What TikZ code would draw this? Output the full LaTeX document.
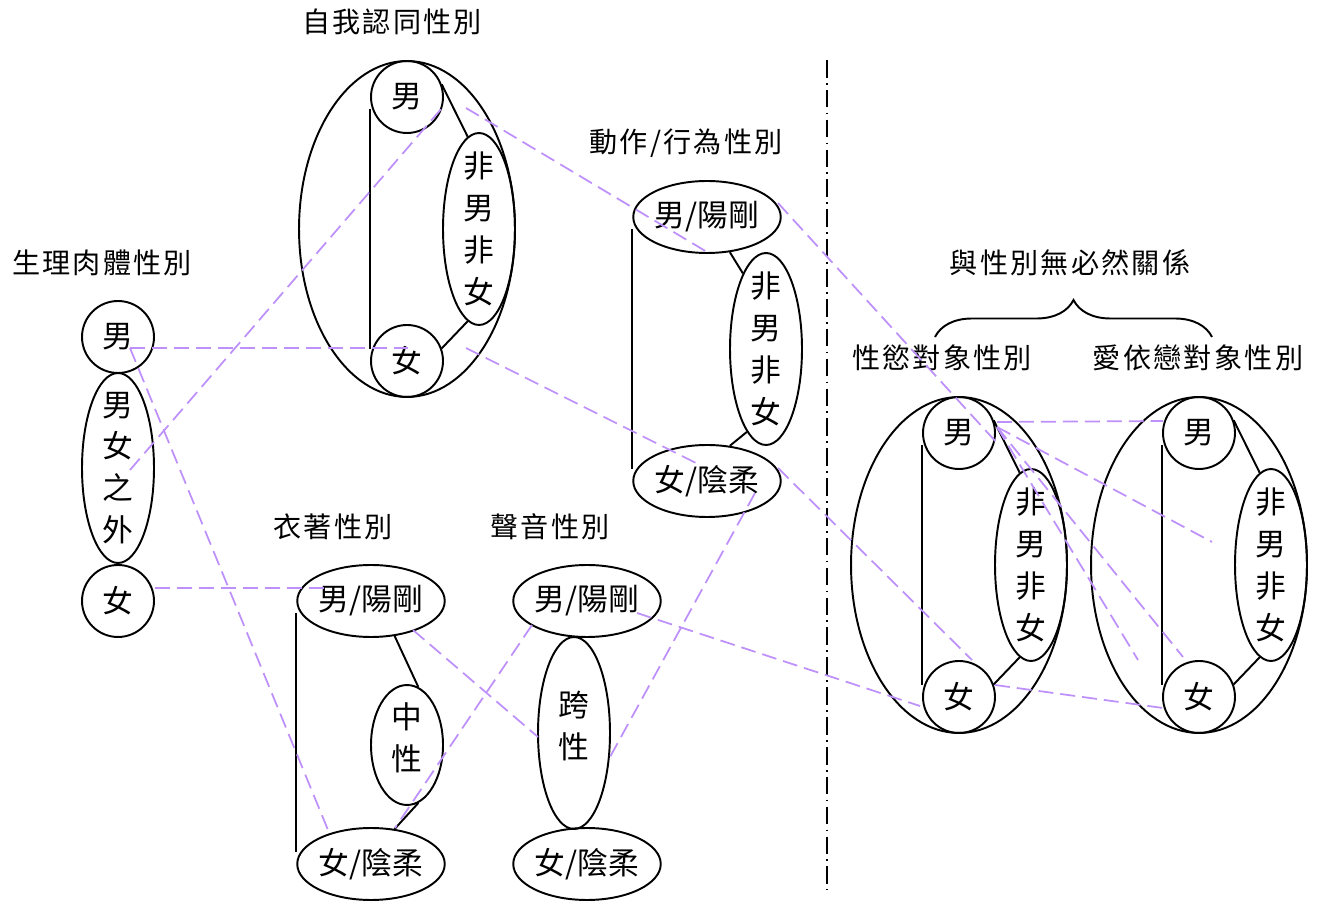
\documentclass[tikz,border=0pt]{standalone}
\usepackage{fontspec}
\newfontfamily\cjk{Noto Sans CJK TC}
\newfontfamily\cjktitle{Noto Sans CJK TC}[LetterSpace=8]
\usetikzlibrary{shapes.geometric,decorations.pathreplacing}
\definecolor{linkpurple}{RGB}{190,145,250}
\tikzset{
  nodetext/.style={font=\cjk\fontsize{17.5}{23.8}\selectfont},
  gtitle/.style={font=\cjktitle\fontsize{16}{20}\selectfont},
  gcircle/.style={draw, circle, minimum size=1.44cm, inner sep=0pt, nodetext},
  goval/.style={draw, ellipse, minimum width=2.88cm, minimum height=1.44cm, inner sep=0pt, nodetext},
  gtall/.style={draw, ellipse, minimum width=1.44cm, minimum height=#1, inner sep=0pt},
  gtall/.default=3.84cm,
  gbig/.style={draw, ellipse, minimum width=4.32cm, minimum height=6.72cm, inner sep=0pt},
  vtext/.style={label={[nodetext, align=center]center:#1}},
  vtextup/.style={label={[nodetext, align=center, yshift=4pt]center:#1}},
  link/.style={draw=linkpurple, dash pattern=on 8.5pt off 4pt, line width=1pt},
}
\begin{document}
\begin{tikzpicture}[x=0.02cm, y=-0.02cm, line width=1.1pt]
\useasboundingbox (0,0) rectangle (1319,901);
% titles
\node[gtitle] (t_body) at (102,263) {生理肉體性別};
\node[gtitle] (t_ident) at (392,22) {自我認同性別};
\node[gtitle] (t_act) at (686,143) {動作/行為性別};
\node[gtitle] (t_cloth) at (333,527) {衣著性別};
\node[gtitle] (t_voice) at (550,527) {聲音性別};
\node[gtitle] (t_free) at (1070,263) {與性別無必然關係};
\node[gtitle] (t_desire) at (942,358) {性慾對象性別};
\node[gtitle] (t_attach) at (1198,358) {愛依戀對象性別};
% body
\node[gcircle] (b_m) at (118,337) {男};
\node[gtall=3.8cm, vtext={男\\女\\之\\外}] (b_x) at (118,468) {};
\node[gcircle] (b_f) at (118,601) {女};
% identity
\node[gbig] (id_big) at (407,229) {};
\node[gcircle] (id_m) at (407,97) {男};
\node[gcircle] (id_f) at (407,361) {女};
\node[gtall, vtext={非\\男\\非\\女}] (id_n) at (479,229) {};
\draw ([yshift=-0.24cm]id_m.west) -- ([yshift=0.24cm]id_f.west);
\draw (id_m.20) -- (id_n.97);
\draw (id_f.20) -- (id_n.-97);
% action
\node[goval] (ac_m) at (707,217) {男/陽剛};
\node[gtall, vtext={非\\男\\非\\女}] (ac_n) at (766,349) {};
\node[goval] (ac_f) at (707,481) {女/陰柔};
\draw ([yshift=-0.24cm]ac_m.west) -- ([yshift=0.24cm]ac_f.west);
\draw (ac_m.-57) -- (ac_n.107);
\draw (ac_n.-103) -- (ac_f.57);
% clothing
\node[goval] (cl_m) at (371,601) {男/陽剛};
\node[gtall=2.4cm, vtextup={中\\性}] (cl_n) at (407,745) {};
\node[goval] (cl_f) at (371,864) {女/陰柔};
\draw ([yshift=-0.24cm]cl_m.west) -- ([yshift=0.24cm]cl_f.west);
\draw (cl_m.-56) -- (cl_n.79);
\draw (cl_n.-79) -- (cl_f.56);
% voice
\node[goval] (vo_m) at (587,601) {男/陽剛};
\node[gtall, vtextup={跨\\性}] (vo_n) at (574,733) {};
\node[goval] (vo_f) at (587,864) {女/陰柔};
% desire
\node[gbig] (de_big) at (959,565) {};
\node[gcircle] (de_m) at (959,433) {男};
\node[gcircle] (de_f) at (959,697) {女};
\node[gtall, vtext={非\\男\\非\\女}] (de_n) at (1031,565) {};
\draw ([yshift=-0.24cm]de_m.west) -- ([yshift=0.24cm]de_f.west);
\draw (de_m.20) -- (de_n.97);
\draw (de_f.20) -- (de_n.-97);
% attachment
\node[gbig] (at_big) at (1199,565) {};
\node[gcircle] (at_m) at (1199,433) {男};
\node[gcircle] (at_f) at (1199,697) {女};
\node[gtall, vtext={非\\男\\非\\女}] (at_n) at (1271,565) {};
\draw ([yshift=-0.24cm]at_m.west) -- ([yshift=0.24cm]at_f.west);
\draw (at_m.20) -- (at_n.97);
\draw (at_f.20) -- (at_n.-97);
% divider and brace
\draw[dash pattern=on 10pt off 3pt on 1pt off 3pt] (827,60) -- (827,890);
\draw[decorate, decoration={brace, amplitude=0.74cm}] (935,337) -- (1212,337);
% links
\draw[link] ([shift={(12,11)}]b_m.center) -- ([shift={(8,-13)}]id_f.center);
\draw[link] ([shift={(12,11)}]b_m.center) -- ([shift={(-43,-34)}]cl_f.center);
\draw[link] ([shift={(12,2)}]b_x.center) -- ([shift={(35,11)}]id_m.center);
\draw[link] ([shift={(37,-13)}]b_f.center) -- ([shift={(-44,-13)}]cl_m.center);
\draw[link] ([shift={(59,11)}]id_m.center) -- ([shift={(0,35)}]ac_m.center);
\draw[link] ([shift={(59,-13)}]id_f.center) -- ([shift={(-7,-16)}]ac_f.center);
\draw[link] ([shift={(71,-14)}]ac_m.center) -- ([shift={(38,10)}]de_m.center);
\draw[link] ([shift={(71,-13)}]ac_f.center) -- ([shift={(13,-37)}]de_f.center);
\draw[link] ([shift={(48,12)}]ac_f.center) -- ([shift={(36,24)}]vo_n.center);
\draw[link] ([shift={(42,29)}]cl_m.center) -- ([shift={(-36,4)}]vo_n.center);
\draw[link] ([shift={(-55,24)}]vo_m.center) -- ([shift={(24,-36)}]cl_f.center);
\draw[link] ([shift={(50,12)}]vo_m.center) -- ([shift={(-39,9)}]de_f.center);
\draw[link] ([shift={(38,-11)}]de_m.center) -- ([shift={(-36,-12)}]at_m.center);
\draw[link] ([shift={(38,-6)}]de_m.center) -- ([shift={(-59,-23)}]at_n.center);
\draw[link] ([shift={(38,-6)}]de_m.center) -- ([shift={(-16,-40)}]at_f.center);
\draw[link] ([shift={(38,-6)}]de_m.center) -- ([shift={(-61,-37)}]at_f.center);
\draw[link] ([shift={(36,-12)}]de_f.center) -- ([shift={(-36,11)}]at_f.center);
\end{tikzpicture}
\end{document}
